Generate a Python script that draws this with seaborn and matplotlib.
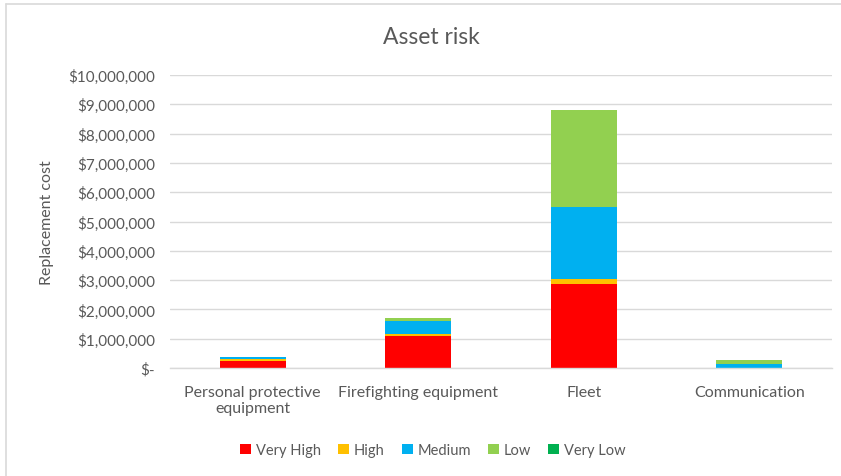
import numpy as np
import pandas as pd
import matplotlib
matplotlib.use("Agg")
import matplotlib.pyplot as plt
from matplotlib.lines import Line2D
from matplotlib.patches import Patch
import seaborn as sns

categories = ["Personal protective\nequipment", "Firefighting equipment", "Fleet", "Communication"]
risk_levels = ["Very High", "High", "Medium", "Low", "Very Low"]
very_high = [240000, 1090000, 2860000, 0]
high = [80000, 80000, 180000, 0]
medium = [60000, 450000, 2450000, 150000]
low = [0, 80000, 3320000, 140000]
very_low = [0, 0, 0, 0]
colors = ["#FF0000", "#FFC000", "#00B0F0", "#92D050", "#00B050"]
y_ticks = [0, 1e6, 2e6, 3e6, 4e6, 5e6, 6e6, 7e6, 8e6, 9e6, 10e6]

sns.set_theme(style="white")
plt.rcParams["font.family"] = ["Lato", "DejaVu Sans"]
text_color = "#595959"
grid_color = "#D9D9D9"

fig = plt.figure(figsize=(8.41, 4.77), dpi=100)
ax = fig.add_axes([170 / 841, 1 - 369 / 477, 662 / 841, 293 / 477])

series = [very_high, high, medium, low, very_low]
bottom = np.zeros(len(categories))
for name, vals, col in zip(risk_levels, series, colors):
    df = pd.DataFrame({"category": categories, "cost": vals})
    sns.barplot(data=df, x="category", y="cost", bottom=bottom, color=col,
                width=0.4, ax=ax, saturation=1, linewidth=0)
    bottom = bottom + np.array(vals, dtype=float)

ax.set_ylim(0, 10e6)
ax.set_xlim(-0.5, len(categories) - 0.5)
ax.set_yticks(y_ticks)
ax.set_yticklabels(["$-" if v == 0 else f"${v:,.0f}" for v in y_ticks])
ax.yaxis.grid(True, color=grid_color, linewidth=1.0)
ax.set_axisbelow(True)
for s in ["top", "right", "left"]:
    ax.spines[s].set_visible(False)
ax.spines["bottom"].set_color(grid_color)
ax.spines["bottom"].set_linewidth(1.0)
ax.tick_params(axis="both", length=0, colors=text_color)
ax.tick_params(axis="y", pad=11, labelsize=11)
ax.tick_params(axis="x", pad=12, labelsize=11.5)
ax.set_xlabel("")
ax.set_ylabel("Replacement cost", color=text_color, fontsize=11.5)
ax.yaxis.set_label_coords(-116 / 662, 0.5)

fig.text(431 / 841, 1 - 38 / 477, "Asset risk", ha="center", va="center",
         color=text_color, fontsize=16.5)

handles = [Patch(facecolor=c, edgecolor="none") for c in colors]
fig.legend(handles, risk_levels, loc="center", bbox_to_anchor=(433 / 841, 1 - 451 / 477),
           ncol=5, frameon=False, fontsize=10.5, labelcolor=text_color,
           handlelength=0.75, handleheight=0.75, handletextpad=0.35, columnspacing=1.15)

# chart frame edges
fig.add_artist(Line2D([6 / 841, 6 / 841], [0, 1 - 5 / 477], transform=fig.transFigure,
                      color=grid_color, linewidth=1.2))
fig.add_artist(Line2D([6 / 841, 1], [1 - 5 / 477, 1 - 5 / 477], transform=fig.transFigure,
                      color=grid_color, linewidth=1.2))

fig.savefig("out.png", dpi=100)
